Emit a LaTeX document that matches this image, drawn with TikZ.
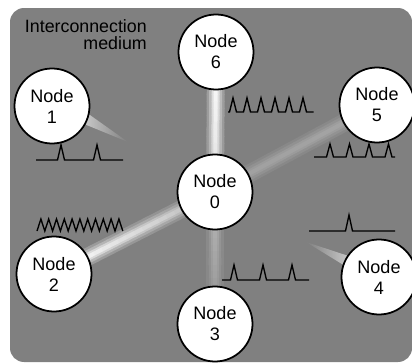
\documentclass[tikz,border=0pt]{standalone}
\usepackage{fontspec}
\setmainfont{Liberation Sans}
\usetikzlibrary{calc,backgrounds}

\definecolor{medium}{RGB}{128,128,128}
\newcommand\nodefont{\fontsize{15.4pt}{17.9pt}\selectfont}
\newcommand\labelfont{\fontsize{15.2pt}{14.6pt}\selectfont}

% soft light beam between two nodes: from, to, whiteness at from, whiteness at to
\newcommand\drawbeam[4]{%
  \foreach \lw/\fac in {18/0.25,13/0.5,8/0.8,4/1}{%
    \foreach \k in {0,...,19}{%
      \pgfmathsetmacro\ta{\k/20}%
      \pgfmathsetmacro\tb{(\k+1.1)/20}%
      \pgfmathtruncatemacro\pp{(#3+(#4-#3)*\k/19)*\fac}%
      \draw[line width=\lw*0.85pt, white!\pp!medium] ($(#1)!\ta!(#2)$) -- ($(#1)!\tb!(#2)$);
    }
  }
}

\begin{document}
\begin{tikzpicture}[x=0.03cm, y=-0.03cm,
    station/.style={circle, draw=black, line width=1.5pt, fill=white,
        minimum size=2.25cm, inner sep=0pt, align=center, font=\nodefont},
    signal/.style={draw=black, line width=1.15pt, line join=miter}
]

\useasboundingbox (0,0) rectangle (412,363);

\node[station] (n0) at (215,192) {Node\\0};
\node[station] (n6) at (216,52) {Node\\6};
\node[station] (n3) at (215,324) {Node\\3};
\node[station] (n1) at (52,106) {Node\\1};
\node[station] (n2) at (54,274) {Node\\2};
\node[station] (n5) at (377,105) {Node\\5};
\node[station] (n4) at (379,277) {Node\\4};

\node[anchor=north east, inner sep=0pt, align=right, font=\labelfont] (lbl) at (147,19) {Interconnection\\medium};

\coordinate (w1) at (128,142);
\coordinate (w4) at (306,242);

\begin{scope}[on background layer]
  \fill[medium, rounded corners=0.42cm] (10,8) rectangle (412,362);
  \drawbeam{n6}{n0}{100}{75}
  \drawbeam{n0}{n3}{45}{15}
  \drawbeam{n2}{n0}{100}{45}
  \drawbeam{n0}{n5}{25}{30}
  \shade[left color=white!55!medium, right color=medium] (n1.-13) -- (n1.-29) -- (w1) -- cycle;
  \shade[left color=medium, right color=white!55!medium] (w4) -- (n4.146) -- (n4.161) -- cycle;
\end{scope}

% signals
\draw[signal] (36,160) -- (57.5,160) -- ++(3.5,-15) -- ++(3.5,15) -- (93.5,160) -- ++(3.5,-15) -- ++(3.5,15) -- (123,160);
\draw[signal] (228,112) -- ++(1.5,0) \foreach \i in {1,...,6}{ -- ++(3.5,-14) -- ++(3.5,14) -- ++(7,0)};
\draw[signal] (314,157) \foreach \i in {0,...,3}{ -- (326.5+19.5*\i,157) -- ++(3.5,-13) -- ++(3.5,13)} -- (395,157);
\draw[signal] (37,231) \foreach \i in {0,...,10}{ -- ++(3.9,-12) -- ++(3.9,12)};
\draw[signal] (222,280) \foreach \i in {0,1,2}{ -- (230.5+29*\i,280) -- ++(3.5,-15) -- ++(3.5,15)} -- (309,280);
\draw[signal] (309,231) -- (345.5,231) -- ++(3.5,-16) -- ++(3.5,16) -- (395,231);

\end{tikzpicture}
\end{document}
